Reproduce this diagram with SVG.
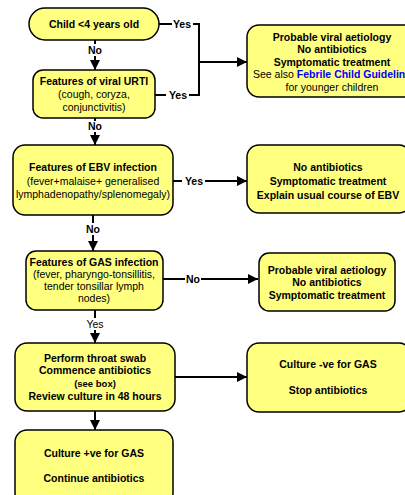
<svg xmlns="http://www.w3.org/2000/svg" width="405" height="495" viewBox="0 0 405 495">
<style>
.box{fill:#ffff80;stroke:#000;stroke-width:1.5}
.t{font-family:"Liberation Sans",Arial,sans-serif;font-size:10.5px;text-anchor:middle;fill:#000}
.b{font-weight:bold}
.c{stroke:#000;stroke-width:2;fill:none}
.lbl{font-family:"Liberation Sans",Arial,sans-serif;font-size:10.5px;font-weight:bold;text-anchor:middle;fill:#000}
</style>
<defs>
<marker id="ah" viewBox="0 0 10 10" refX="10" refY="5" markerWidth="5" markerHeight="5" orient="auto" markerUnits="strokeWidth">
<path d="M0,0 L10,5 L0,10 z" fill="#000"/>
</marker>
</defs>
<rect width="405" height="495" fill="#fff"/>
<g id="connectors">
<line class="c" x1="95" y1="40" x2="95" y2="44"/>
<line class="c" x1="95" y1="56" x2="95" y2="70" marker-end="url(#ah)"/>
<text class="lbl" x="95" y="54">No</text>
<line class="c" x1="95" y1="118" x2="95" y2="121"/>
<line class="c" x1="95" y1="132" x2="95" y2="145" marker-end="url(#ah)"/>
<text class="lbl" x="95" y="130">No</text>
<line class="c" x1="93" y1="215" x2="93" y2="223"/>
<line class="c" x1="93" y1="235" x2="93" y2="251" marker-end="url(#ah)"/>
<text class="lbl" x="93" y="233">No</text>
<line class="c" x1="95" y1="310" x2="95" y2="318"/>
<line class="c" x1="95" y1="330" x2="95" y2="343" marker-end="url(#ah)"/>
<text class="lbl" x="95" y="328" style="font-weight:normal">Yes</text>
<line class="c" x1="95" y1="411" x2="95" y2="430" marker-end="url(#ah)"/>
<line class="c" x1="159" y1="24" x2="172" y2="24"/>
<polyline class="c" points="193,24 199,24 199,95 189,95"/>
<text class="lbl" x="182" y="28">Yes</text>
<line class="c" x1="155" y1="95" x2="166" y2="95"/>
<text class="lbl" x="178" y="99">Yes</text>
<line class="c" x1="199" y1="62" x2="247" y2="62" marker-end="url(#ah)"/>
<line class="c" x1="173" y1="181" x2="182" y2="181"/>
<line class="c" x1="205" y1="181" x2="247" y2="181" marker-end="url(#ah)"/>
<text class="lbl" x="194" y="185">Yes</text>
<line class="c" x1="163" y1="279" x2="185" y2="279"/>
<line class="c" x1="201" y1="279" x2="258" y2="279" marker-end="url(#ah)"/>
<text class="lbl" x="193" y="283">No</text>
<line class="c" x1="175" y1="377" x2="247" y2="377" marker-end="url(#ah)"/>
</g>
<g id="n1">
<rect class="box" x="29" y="8" width="130" height="32" rx="16"/>
<text class="t b" x="94" y="28">Child &lt;4 years old</text>
</g>
<g id="n2">
<rect class="box" x="33" y="70" width="122" height="48" rx="10"/>
<text class="t b" x="94" y="85">Features of viral URTI</text>
<text class="t" x="94" y="98">(cough, coryza,</text>
<text class="t" x="94" y="111">conjunctivitis)</text>
</g>
<g id="r1">
<rect class="box" x="247" y="25" width="172" height="72" rx="12"/>
<text class="t b" x="332" y="41">Probable viral aetiology</text>
<text class="t b" x="332" y="53">No antibiotics</text>
<text class="t b" x="332" y="66">Symptomatic treatment</text>
<text class="t" x="253" y="78" style="text-anchor:start">See also <tspan font-weight="bold" fill="#0000ff">Febrile Child Guideline</tspan></text>
<text class="t" x="332" y="91">for younger children</text>
</g>
<g id="n3">
<rect class="box" x="13" y="145" width="160" height="70" rx="12"/>
<text class="t b" x="93" y="171">Features of EBV infection</text>
<text class="t" x="93" y="185">(fever+malaise+ generalised</text>
<text class="t" x="93" y="198">lymphadenopathy/splenomegaly)</text>
</g>
<g id="r2">
<rect class="box" x="247" y="145" width="164" height="68" rx="12"/>
<text class="t b" x="328" y="171">No antibiotics</text>
<text class="t b" x="328" y="185">Symptomatic treatment</text>
<text class="t b" x="328" y="199">Explain usual course of EBV</text>
</g>
<g id="n4">
<rect class="box" x="26" y="251" width="137" height="59" rx="10"/>
<text class="t b" x="94" y="266">Features of GAS infection</text>
<text class="t" x="94" y="278">(fever, pharyngo-tonsillitis,</text>
<text class="t" x="94" y="290">tender tonsillar lymph</text>
<text class="t" x="94" y="302">nodes)</text>
</g>
<g id="r3">
<rect class="box" x="259" y="253" width="136" height="58" rx="10"/>
<text class="t b" x="327" y="274">Probable viral aetiology</text>
<text class="t b" x="327" y="286">No antibiotics</text>
<text class="t b" x="327" y="299">Symptomatic treatment</text>
</g>
<g id="n5">
<rect class="box" x="15" y="343" width="160" height="68" rx="12"/>
<text class="t b" x="95" y="362">Perform throat swab</text>
<text class="t b" x="95" y="374">Commence antibiotics</text>
<text class="t b" x="95" y="387" style="font-size:9.5px">(see box)</text>
<text class="t b" x="95" y="400">Review culture in 48 hours</text>
</g>
<g id="r4">
<rect class="box" x="247" y="343" width="164" height="69" rx="12"/>
<text class="t b" x="328" y="368">Culture -ve for GAS</text>
<text class="t b" x="328" y="394">Stop antibiotics</text>
</g>
<g id="n6">
<rect class="box" x="15" y="430" width="158" height="75" rx="12"/>
<text class="t b" x="94" y="457">Culture +ve for GAS</text>
<text class="t b" x="94" y="482">Continue antibiotics</text>
</g>
</svg>
